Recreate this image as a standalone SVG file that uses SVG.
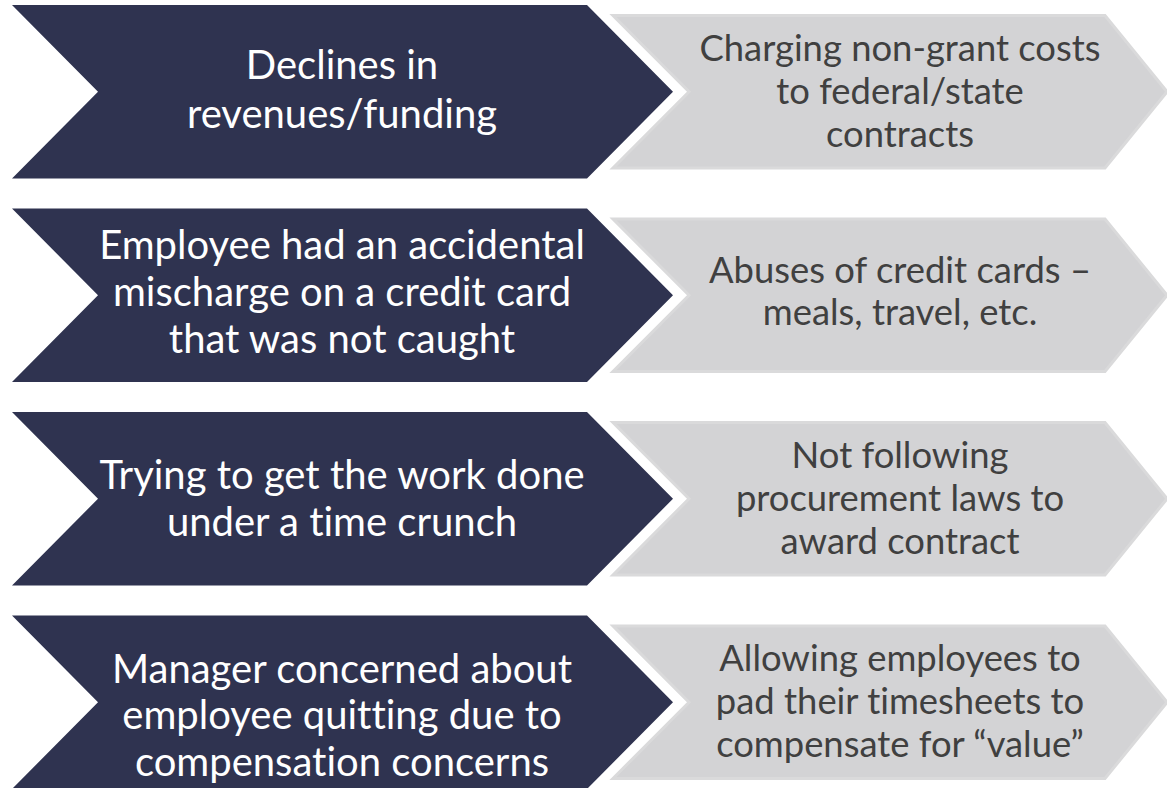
<svg xmlns="http://www.w3.org/2000/svg" width="1167" height="788" viewBox="0 0 1167 788">
  <style>
    .cause { fill: #2f3350; }
    .act { fill: #d3d3d5; stroke: #dadadb; stroke-width: 3; stroke-linejoin: miter; }
    .t { font-family: Lato, "Open Sans", "Liberation Sans", sans-serif; text-anchor: middle; font-variant-ligatures: none; }
    .tc { fill: #ffffff; font-size: 40px; }
    .ta { fill: #404040; font-size: 36.4px; }
  </style>
  <rect width="1167" height="788" fill="#ffffff"/>

  <!-- Row 1 -->
  <g id="cause-1">
    <polygon class="cause" points="12,5 587,5 673,91.75 587,178.5 12,178.5 98,91.75"/>
    <text class="t tc" x="342" y="79">Declines in</text>
    <text class="t tc" x="342" y="128">revenues/funding</text>
  </g>
  <g id="act-1">
    <polygon class="act" points="613,15.5 1105,15.5 1167,91.75 1105,168 613,168 689,91.75"/>
    <text class="t ta" x="900" y="61">Charging non-grant costs</text>
    <text class="t ta" x="900" y="104">to federal/state</text>
    <text class="t ta" x="900" y="147">contracts</text>
  </g>

  <!-- Row 2 -->
  <g id="cause-2">
    <polygon class="cause" points="12,208.5 587,208.5 673,295.25 587,382 12,382 98,295.25"/>
    <text class="t tc" x="342" y="259">Employee had an accidental</text>
    <text class="t tc" x="342" y="306">mischarge on a credit card</text>
    <text class="t tc" x="342" y="353">that was not caught</text>
  </g>
  <g id="act-2">
    <polygon class="act" points="613,219 1105,219 1167,295.25 1105,371.5 613,371.5 689,295.25"/>
    <text class="t ta" x="900" y="283">Abuses of credit cards –</text>
    <text class="t ta" x="900" y="325">meals, travel, etc.</text>
  </g>

  <!-- Row 3 -->
  <g id="cause-3">
    <polygon class="cause" points="12,412 587,412 673,498.75 587,585.5 12,585.5 98,498.75"/>
    <text class="t tc" x="342" y="489">Trying to get the work done</text>
    <text class="t tc" x="342" y="536">under a time crunch</text>
  </g>
  <g id="act-3">
    <polygon class="act" points="613,422.5 1105,422.5 1167,498.75 1105,575 613,575 689,498.75"/>
    <text class="t ta" x="900" y="468">Not following</text>
    <text class="t ta" x="900" y="511">procurement laws to</text>
    <text class="t ta" x="900" y="554">award contract</text>
  </g>

  <!-- Row 4 -->
  <g id="cause-4">
    <polygon class="cause" points="12,615.5 587,615.5 673,702.25 587,789 12,789 98,702.25"/>
    <text class="t tc" x="342" y="683">Manager concerned about</text>
    <text class="t tc" x="342" y="729">employee quitting due to</text>
    <text class="t tc" x="342" y="776">compensation concerns</text>
  </g>
  <g id="act-4">
    <polygon class="act" points="613,626 1105,626 1167,702.25 1105,778.5 613,778.5 689,702.25"/>
    <text class="t ta" x="900" y="671">Allowing employees to</text>
    <text class="t ta" x="900" y="714">pad their timesheets to</text>
    <text class="t ta" x="900" y="757">compensate for “value”</text>
  </g>

  <!-- No connectors: the chevrons abut directly -->
  <g id="connectors"/>
</svg>
